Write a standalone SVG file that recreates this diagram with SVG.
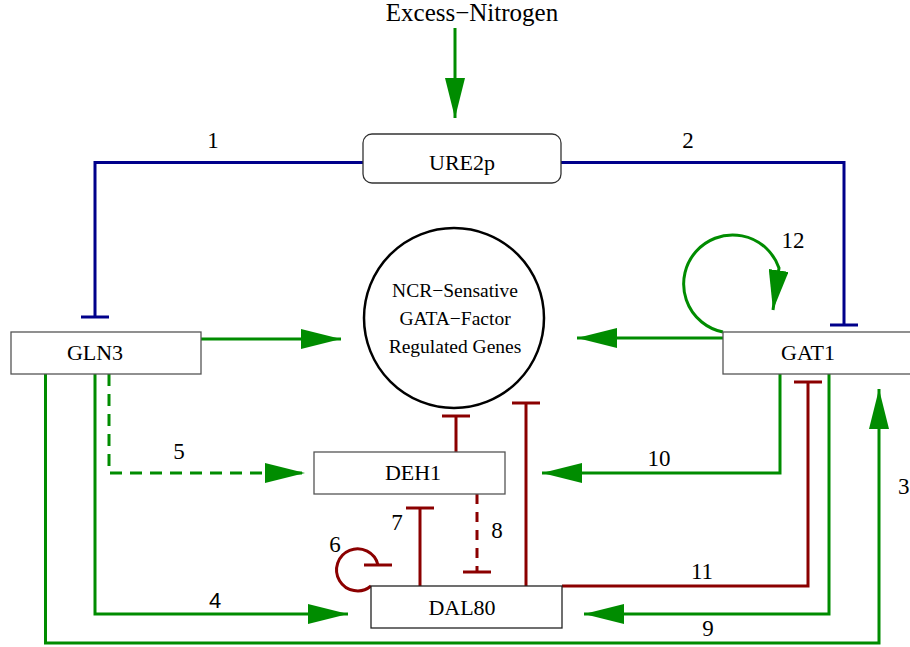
<svg xmlns="http://www.w3.org/2000/svg" width="910" height="647" viewBox="0 0 910 647">
<style>
  text { font-family: "Liberation Serif", "Times New Roman", serif; fill: #000; }
  .lbl { font-size: 23px; text-anchor: middle; }
  .box { fill: #fff; stroke: #555; stroke-width: 1.3; }
  .nt { font-size: 22px; text-anchor: middle; }
  .ct { font-size: 19.5px; text-anchor: middle; }
  .g { fill: none; stroke: #008c00; stroke-width: 3; }
  .b { fill: none; stroke: #00008b; stroke-width: 3; }
  .r { fill: none; stroke: #8b0000; stroke-width: 3; }
  .dash { stroke-dasharray: 12 8; }
  .ga { marker-end: url(#arrowG); }
  .bt { marker-end: url(#teeB); }
  .rt { marker-end: url(#teeR); }
</style>
<defs>
  <marker id="arrowG" viewBox="0 0 40 20" markerWidth="40" markerHeight="20" refX="40" refY="10" orient="auto" markerUnits="userSpaceOnUse">
    <path d="M0,0 L40,10 L0,20 Z" fill="#008c00"/>
  </marker>
  <marker id="teeB" viewBox="-2 -14 4 28" markerWidth="4" markerHeight="28" refX="0" refY="0" orient="auto" markerUnits="userSpaceOnUse">
    <path d="M0,-14 L0,14" stroke="#00008b" stroke-width="3"/>
  </marker>
  <marker id="teeR" viewBox="-2 -14 4 28" markerWidth="4" markerHeight="28" refX="0" refY="0" orient="auto" markerUnits="userSpaceOnUse">
    <path d="M0,-14 L0,14" stroke="#8b0000" stroke-width="3"/>
  </marker>
</defs>

<g id="connectors">
  <path class="g ga" d="M455,28 L455,118"/>
  <path class="b bt" d="M363,162.5 L95,162.5 L95,317"/>
  <path class="b bt" d="M561,162.5 L844,162.5 L844,325"/>
  <path class="g ga" d="M201,339 L341,339"/>
  <path class="g ga" d="M723,338 L577,338"/>
  <path class="g ga" d="M723,332 A49,49 0 1 1 779,268 L773,310"/>
  <path class="g dash ga" d="M109,374 L109,473 L305,473"/>
  <path class="g ga" d="M95,374 L95,614 L348,614"/>
  <path class="g ga" d="M45.5,374 L45.5,643 L879,643 L879,389"/>
  <path class="g ga" d="M780,374 L780,473 L542,473"/>
  <path class="g ga" d="M829,374 L829,614 L584,614"/>
  <path class="r rt" d="M562,586 L808,586 L808,382"/>
  <path class="r rt" d="M456,452 L456,416"/>
  <path class="r rt" d="M526,586 L526,403"/>
  <path class="r rt" d="M420,586 L420,508"/>
  <path class="r rt" d="M477,494 L477,572" style="stroke-dasharray:10 8"/>
  <path class="r" d="M371,586 A21,21 0 1 1 378,565"/>
  <path class="r" d="M364,565 L392,565"/>
  <text class="lbl" x="213" y="148">1</text>
  <text class="lbl" x="688" y="148">2</text>
  <text class="lbl" x="898" y="494" style="text-anchor:start">3</text>
  <text class="lbl" x="215" y="608" style="font-family:'Liberation Sans', Arial, sans-serif;font-size:22px">4</text>
  <text class="lbl" x="179" y="459">5</text>
  <text class="lbl" x="335" y="552">6</text>
  <text class="lbl" x="397" y="530">7</text>
  <text class="lbl" x="497" y="538">8</text>
  <text class="lbl" x="708" y="636">9</text>
  <text class="lbl" x="659" y="466">10</text>
  <text class="lbl" x="702" y="579">11</text>
  <text class="lbl" x="793" y="248">12</text>
</g>

<g id="excess-nitrogen">
  <text x="472" y="21" style="font-size:25px;text-anchor:middle">Excess−Nitrogen</text>
</g>
<g id="ure2p">
  <rect class="box" x="363" y="134" width="198" height="49" rx="9" ry="9" style="stroke:#333"/>
  <text class="nt" x="462" y="170">URE2p</text>
</g>
<g id="genes">
  <circle cx="454" cy="318" r="90" fill="#fff" stroke="#000" stroke-width="2.5"/>
  <text class="ct" x="455" y="297">NCR−Sensative</text>
  <text class="ct" x="455" y="325">GATA−Factor</text>
  <text class="ct" x="455" y="353">Regulated Genes</text>
</g>
<g id="gln3">
  <rect class="box" x="11" y="332" width="190" height="42"/>
  <text class="nt" x="95" y="360">GLN3</text>
</g>
<g id="gat1">
  <rect class="box" x="723" y="332" width="191" height="42"/>
  <text class="nt" x="808" y="360">GAT1</text>
</g>
<g id="deh1">
  <rect class="box" x="314" y="452" width="191" height="42"/>
  <text class="nt" x="413" y="480">DEH1</text>
</g>
<g id="dal80">
  <rect class="box" x="371" y="586" width="191" height="42" style="stroke:#222"/>
  <text class="nt" x="462" y="615">DAL80</text>
</g>
</svg>
